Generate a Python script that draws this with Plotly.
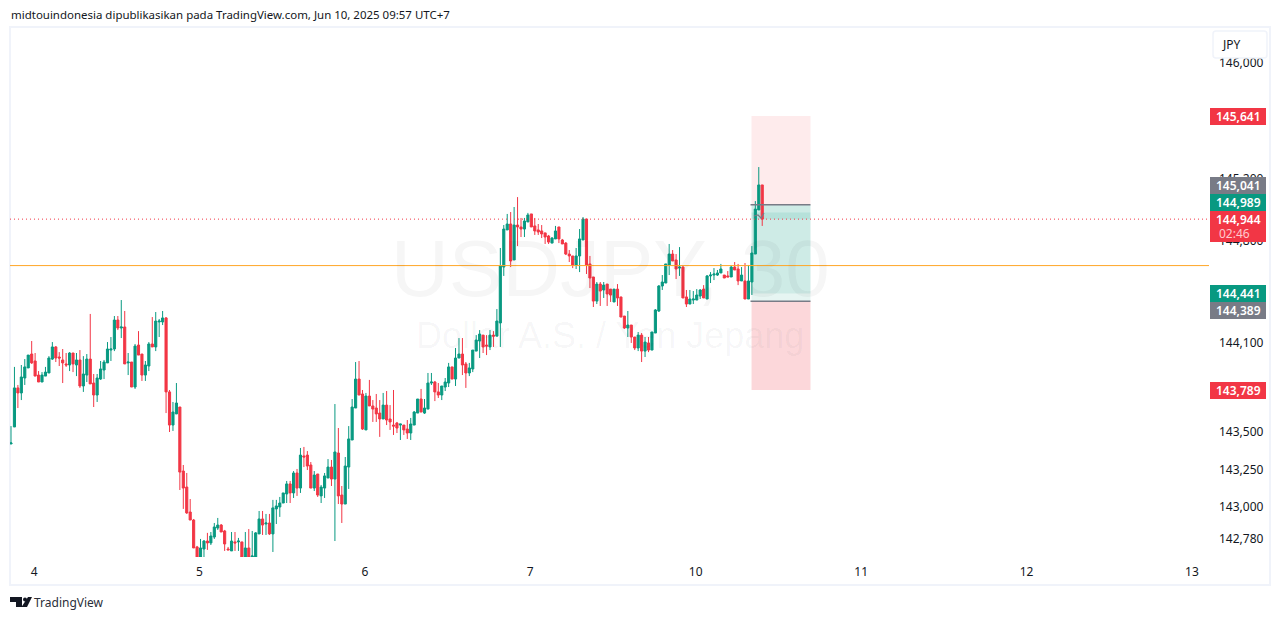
import plotly.graph_objects as go

opens = [143424,143539,143803,143769,143870,143938,144032,143985,143890,143843,
143883,143904,143998,144080,144012,143992,143965,143958,144039,143958,
143992,143816,143890,143998,143836,143755,143863,143924,143972,144059,
144066,144262,144208,144215,143972,143978,143809,144093,144032,143890,
143951,144100,144080,144249,144249,144276,143776,143552,143627,143674,
143241,143133,142964,142910,142728,142660,142714,142768,142755,142795,
142856,142876,142836,142714,142701,142762,142762,142762,142660,142721,
142660,142660,142816,142917,142883,142890,142816,142985,142998,143025,
143086,143154,143093,143228,143126,143343,143349,143282,143126,143221,
143073,143126,143194,143268,143187,143363,143079,143018,143268,143451,
143667,143863,143762,143519,143748,143681,143667,143633,143593,143687,
143593,143552,143566,143552,143552,143525,143498,143552,143633,143728,
143633,143660,143836,143843,143776,143755,143809,143836,143945,143863,
144005,144032,143965,143904,143931,144052,144120,144160,144093,144080,
144160,144153,144242,144620,144871,144911,144668,144904,144891,144877,
144925,144979,144898,144871,144864,144851,144830,144782,144810,144891,
144803,144782,144708,144695,144634,144695,144803,144945,144641,144553,
144390,144505,144465,144505,144471,144384,144471,144418,144289,144208,
144228,144147,144073,144160,144052,144107,144059,144174,144323,144492,
144512,144634,144708,144668,144613,144620,144418,144370,144397,144397,
144424,144471,144404,144560,144566,144566,144580,144566,144560,144553,
144620,144607,144526,144526,144404,144519,144708,145006,145175]

highs = [143545,143945,143823,143958,143998,144025,144120,144039,143917,143910,
143945,144018,144113,144086,144045,144066,144039,144045,144039,144039,
144059,144018,144032,144303,143897,143897,143985,143992,144113,144147,
144289,144289,144397,144323,144039,143978,144100,144187,144032,143985,
144113,144282,144316,144269,144323,144282,143789,143708,143836,143674,
143282,143228,143052,142917,142735,142782,142775,142823,142829,142890,
142924,142883,142843,142728,142829,142829,142789,142762,142829,142849,
142836,142829,142971,142971,142951,142951,143046,143046,143066,143093,
143174,143174,143241,143255,143397,143404,143376,143302,143241,143221,
143147,143228,143322,143316,143694,143532,143140,143336,143545,143728,
143978,143985,143789,143769,143857,143721,143762,143721,143769,143782,
143687,143789,143573,143559,143552,143586,143600,143647,143728,143796,
143728,143904,143904,143850,143836,143816,143870,143972,143945,144073,
144140,144140,143978,143972,144059,144160,144194,144160,144160,144194,
144187,144336,144749,144904,144979,144992,145026,145093,144952,144952,
144986,144979,144952,144911,144904,144851,144837,144823,144898,144891,
144810,144789,144735,144695,144749,144877,144958,144945,144695,144553,
144519,144519,144519,144505,144471,144471,144505,144418,144289,144323,
144228,144147,144181,144174,144147,144147,144181,144336,144498,144566,
144641,144776,144735,144708,144755,144627,144465,144465,144458,144471,
144471,144498,144566,144586,144613,144600,144641,144566,144593,144627,
144654,144641,144620,144647,144634,144762,145066,145296,145175]

lows = [143424,143539,143667,143721,143823,143938,143965,143883,143843,143843,
143883,143904,143992,143978,143951,143836,143945,143917,143910,143883,
143803,143776,143843,143830,143674,143708,143857,143863,143972,143985,
144052,144194,144140,143965,143890,143809,143796,144025,143850,143850,
143917,144080,144052,144147,144228,143633,143505,143512,143627,143113,
142985,142951,142910,142721,142660,142660,142660,142708,142741,142782,
142843,142829,142701,142708,142701,142701,142701,142660,142660,142660,
142660,142660,142816,142809,142809,142809,142694,142883,142931,143025,
143025,143025,143059,143073,143093,143268,143248,143126,143106,143066,
143025,143059,143194,143140,142768,143018,142890,143018,143120,143451,
143667,143755,143519,143519,143681,143573,143573,143472,143593,143552,
143519,143485,143498,143451,143485,143458,143451,143552,143633,143640,
143627,143660,143823,143714,143735,143721,143782,143809,143863,143816,
144005,143890,143803,143883,143910,144052,144005,144039,144025,144059,
144080,144153,144080,144560,144871,144620,144668,144762,144823,144823,
144925,144891,144837,144837,144816,144776,144776,144782,144810,144782,
144776,144701,144654,144613,144607,144586,144803,144573,144478,144350,
144370,144357,144411,144357,144384,144384,144357,144282,144201,144147,
144107,144059,144052,143978,144012,144045,144059,144174,144316,144465,
144512,144566,144661,144539,144560,144411,144350,144370,144370,144397,
144404,144411,144404,144512,144532,144560,144580,144546,144553,144553,
144600,144498,144526,144404,144404,144431,144708,145006,144898]

closes = [143431,143803,143769,143877,143945,144025,143972,143883,143843,143890,
143910,144005,144080,144005,144005,143972,143958,144039,143965,143992,
143816,143897,143998,143830,143755,143870,143931,143978,144066,144066,
144262,144208,144215,143965,143978,143809,144086,144025,143890,143958,
144100,144080,144255,144255,144276,143776,143552,143640,143701,143234,
143126,142958,142910,142721,142660,142721,142768,142755,142802,142863,
142876,142829,142748,142708,142768,142755,142768,142660,142721,142660,
142667,142823,142917,142876,142890,142816,142992,143005,143025,143093,
143154,143093,143228,143126,143349,143336,143275,143126,143214,143079,
143133,143208,143268,143187,143370,143073,143018,143275,143458,143674,
143863,143755,143525,143748,143681,143660,143627,143593,143687,143586,
143573,143545,143532,143559,143519,143498,143559,143640,143728,143640,
143667,143836,143843,143776,143755,143816,143843,143945,143863,144005,
144032,143958,143904,143938,144059,144127,144167,144080,144086,144160,
144153,144255,144627,144877,144911,144661,144904,144891,144877,144931,
144972,144891,144864,144857,144844,144823,144789,144816,144864,144810,
144776,144708,144695,144634,144695,144810,144945,144634,144546,144390,
144505,144458,144498,144438,144431,144471,144411,144282,144208,144228,
144147,144073,144160,144052,144113,144059,144181,144330,144492,144519,
144641,144708,144661,144607,144620,144411,144370,144404,144404,144431,
144465,144411,144560,144566,144573,144580,144607,144546,144553,144620,
144600,144526,144566,144404,144526,144715,145012,145175,144944]

candle_index = list(range(len(opens)))

day_tick_index = [6.7, 54.7, 102.7, 150.7, 198.7, 246.7, 294.7, 342.7]
day_tick_text = ["4", "5", "6", "7", "10", "11", "12", "13"]

price_ticks = [146000, 145620, 145220, 144800, 144107, 143507, 143250, 143000, 142780]
price_tick_text = ["146,000", "145,600", "145,200", "144,800", "144,100", "143,500", "143,250", "143,000", "142,780"]

last_price = 144944
hline_price = 144630
target_price = 145641
stop_price = 143789
entry_price = 145041
entry_low = 144389
mid_high = 144989
mid_low = 144441
pos_start = 214.9
pos_end = 232

W, H = 1281, 620
L, R, T, B = 10, 1209, 28, 557
Y_TOP, Y_BOT = 146236, 142660
X_MIN, X_MAX = -0.29, 347.65

UP = "#089981"
DOWN = "#F23645"
GREY = "#787B86"
FONT = "Noto Sans"
TEXT = "#131722"


def px(x):
    return (x - L) / (R - L)


def py(y):
    return (B - y) / (B - T)


def path(points, close=True):
    s = " ".join(("M" if i == 0 else "L") + f"{px(a):.5f},{py(b):.5f}" for i, (a, b) in enumerate(points))
    return s + (" Z" if close else "")


fig = go.Figure(go.Candlestick(
    x=candle_index, open=opens, high=highs, low=lows, close=closes,
    increasing=dict(line=dict(color=UP, width=1), fillcolor=UP),
    decreasing=dict(line=dict(color=DOWN, width=1), fillcolor=DOWN),
    whiskerwidth=0, hoverinfo="skip", showlegend=False,
))

shapes = []
# outer frame
shapes.append(dict(type="rect", xref="paper", yref="paper", x0=px(10), x1=px(1270), y0=py(585), y1=py(27),
                   line=dict(color="#F0F3FA", width=2), layer="below"))


def zone(a, b, color):
    shapes.append(dict(type="rect", xref="x", yref="y", x0=pos_start, x1=pos_end, y0=a, y1=b,
                       fillcolor=color, line=dict(width=0), layer="below"))


zone(entry_price, target_price, "rgba(242,54,69,0.10)")
zone(entry_low, stop_price, "rgba(242,54,69,0.20)")
zone(mid_low, entry_price, "rgba(8,153,129,0.20)")
zone(entry_low, mid_low, "rgba(8,153,129,0.10)")
zone(last_price, mid_high, "rgba(8,153,129,0.12)")

for p in (entry_price, entry_low):
    shapes.append(dict(type="line", xref="x", yref="y", x0=pos_start - 0.3, x1=pos_end, y0=p, y1=p,
                       line=dict(color=GREY, width=1.5), layer="above"))

shapes.append(dict(type="line", xref="paper", yref="y", x0=0, x1=1, y0=hline_price, y1=hline_price,
                   line=dict(color="#FFA726", width=1), layer="above"))
shapes.append(dict(type="line", xref="paper", yref="y", x0=0, x1=1, y0=last_price, y1=last_price,
                   line=dict(color=DOWN, width=1, dash="1px,3px"), layer="above"))

# small grey glyph beside the position
shapes.append(dict(type="path", xref="paper", yref="paper",
                   path=path([(754, 216), (758, 215), (761, 218), (764, 213)], close=False),
                   line=dict(color=GREY, width=1.2), layer="above"))

annotations = []


def price_label(y0, y1, text, color):
    shapes.append(dict(type="rect", xref="paper", yref="paper", x0=px(1210), x1=px(1266), y0=py(y1), y1=py(y0),
                       fillcolor=color, line=dict(width=0), layer="above"))
    annotations.append(dict(xref="paper", yref="paper", x=px(1238), y=py((y0 + y1) / 2), text=text,
                            showarrow=False, font=dict(family=FONT, size=12, color="white", weight=600),
                            xanchor="center", yanchor="middle"))


price_label(108, 125, "145,641", DOWN)
price_label(177, 194, "145,041", GREY)
price_label(194, 211, "144,989", UP)
shapes.append(dict(type="rect", xref="paper", yref="paper", x0=px(1210), x1=px(1266), y0=py(242), y1=py(211),
                   fillcolor=DOWN, line=dict(width=0), layer="above"))
annotations.append(dict(xref="paper", yref="paper", x=px(1238), y=py(219), text="144,944", showarrow=False,
                        font=dict(family=FONT, size=12, color="white", weight=600),
                        xanchor="center", yanchor="middle"))
annotations.append(dict(xref="paper", yref="paper", x=px(1217), y=py(233), text="02:46", showarrow=False,
                        font=dict(family=FONT, size=12, color="#FFC9CE"), xanchor="left", yanchor="middle"))
price_label(285, 302, "144,441", UP)
price_label(302, 319, "144,389", GREY)
price_label(382, 399, "143,789", DOWN)

# currency button
shapes.append(dict(type="path", xref="paper", yref="paper", layer="above",
                   path=(f"M{px(1216):.5f},{py(31):.5f} L{px(1264):.5f},{py(31):.5f} "
                         f"Q{px(1267):.5f},{py(31):.5f} {px(1267):.5f},{py(34):.5f} "
                         f"L{px(1267):.5f},{py(55):.5f} Q{px(1267):.5f},{py(58):.5f} {px(1264):.5f},{py(58):.5f} "
                         f"L{px(1216):.5f},{py(58):.5f} Q{px(1213):.5f},{py(58):.5f} {px(1213):.5f},{py(55):.5f} "
                         f"L{px(1213):.5f},{py(34):.5f} Q{px(1213):.5f},{py(31):.5f} {px(1216):.5f},{py(31):.5f} Z"),
                   fillcolor="white", line=dict(color="#F0F3FA", width=1.5)))
annotations.append(dict(xref="paper", yref="paper", x=px(1219.5), y=py(44.5), text="JPY", showarrow=False,
                        font=dict(family=FONT, size=12, color=TEXT), xanchor="left", yanchor="middle"))

# title line
annotations.append(dict(xref="paper", yref="paper", x=px(8.5), y=py(15),
                        text="midtouindonesia dipublikasikan pada TradingView.com, Jun 10, 2025 09:57 UTC+7",
                        showarrow=False, font=dict(family=FONT, size=11.47, color=TEXT),
                        xanchor="left", yanchor="middle"))

# watermark
annotations.append(dict(xref="paper", yref="paper", x=px(610), y=py(268), text="USDJPY, 30", showarrow=False,
                        font=dict(family="Liberation Sans", size=80, color="rgba(19,23,34,0.04)"),
                        xanchor="center", yanchor="middle"))
annotations.append(dict(xref="paper", yref="paper", x=px(610), y=py(335), text="Dollar A.S. / Yen Jepang",
                        showarrow=False, font=dict(family="Liberation Sans", size=36, color="rgba(19,23,34,0.04)"),
                        xanchor="center", yanchor="middle"))

# TradingView footer
for poly in (
    [(10, 597), (22, 597), (22, 607), (16, 607), (16, 602), (10, 602)],
    [(28, 597), (32, 597), (27, 607), (21.5, 607)],
):
    shapes.append(dict(type="path", xref="paper", yref="paper", path=path(poly), fillcolor=TEXT,
                       line=dict(width=0), layer="above"))
shapes.append(dict(type="circle", xref="paper", yref="paper", x0=px(23), x1=px(27), y0=py(601.5), y1=py(597.5),
                   fillcolor=TEXT, line=dict(width=0), layer="above"))
annotations.append(dict(xref="paper", yref="paper", x=px(31.5), y=py(602), text="TradingView", showarrow=False,
                        font=dict(family=FONT, size=12, color="#2A2E39"), xanchor="left", yanchor="middle"))

fig.update_layout(
    width=W, height=H, autosize=False,
    margin=dict(l=L, r=W - R, t=T, b=H - B, pad=0),
    paper_bgcolor="white", plot_bgcolor="rgba(0,0,0,0)",
    font=dict(family=FONT, size=12, color=TEXT),
    showlegend=False, shapes=shapes, annotations=annotations, boxgap=0.12,
    xaxis=dict(range=[X_MIN, X_MAX], rangeslider=dict(visible=False), showgrid=False, zeroline=False,
               showline=False, tickmode="array", tickvals=day_tick_index, ticktext=day_tick_text,
               ticks="", ticklabelstandoff=6, tickfont=dict(family=FONT, size=12, color=TEXT)),
    yaxis=dict(range=[Y_BOT, Y_TOP], side="right", showgrid=False, zeroline=False, showline=False,
               tickmode="array", tickvals=price_ticks, ticktext=price_tick_text,
               ticks="", ticklabelstandoff=9, tickfont=dict(family=FONT, size=12, color=TEXT)),
)

fig.write_html("out.html", config=dict(displayModeBar=False),
               post_script="document.body.style.margin='0';document.documentElement.style.overflow='hidden';")
